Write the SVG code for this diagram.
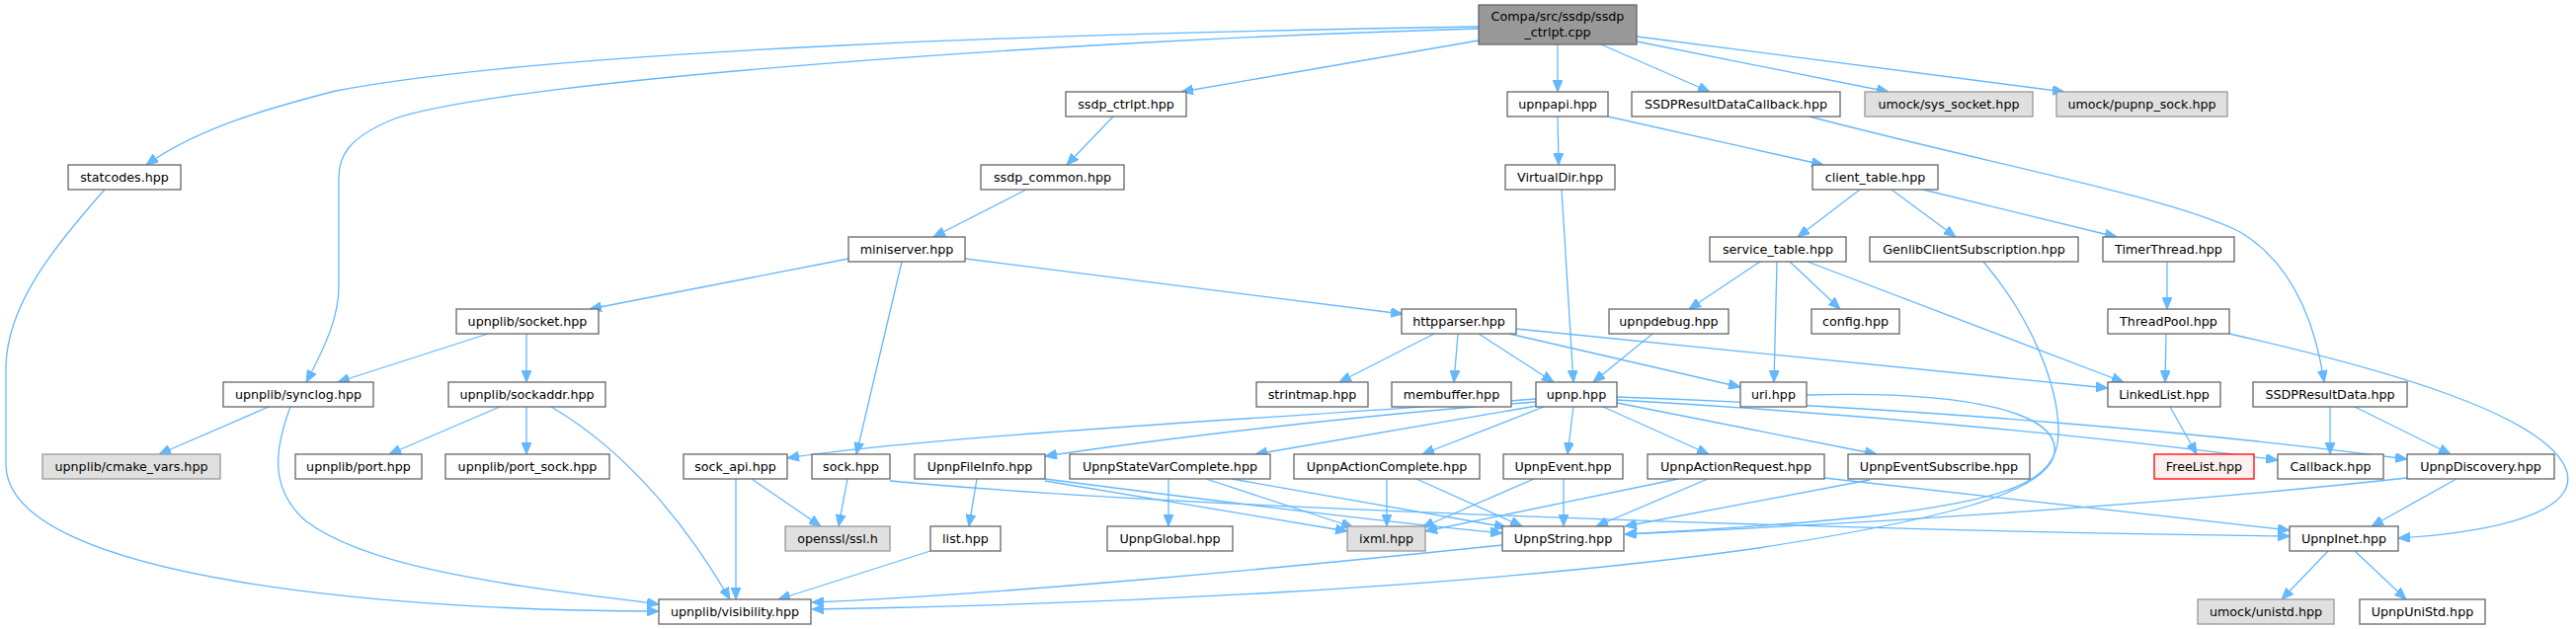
<svg xmlns="http://www.w3.org/2000/svg" width="2608" height="637" viewBox="0 0 2608 637">
<defs>
<marker id="a" markerUnits="userSpaceOnUse" markerWidth="12" markerHeight="10" viewBox="0 0 12 10" refX="12" refY="5" orient="auto">
<path d="M0,0 L12,5 L0,10 z" fill="#63b8ff" stroke="#63b8ff" stroke-width="1"/>
</marker>
<style>
rect{fill:#fff;stroke:#666;stroke-width:1.3}
.g rect{fill:#e0e0e0;stroke:#999}
.r rect{fill:#fff0f0;stroke:#f00}
.m rect{fill:#999;stroke:#666}
text{font-family:"DejaVu Sans",sans-serif;font-size:12.7px;text-anchor:middle;fill:#000}
#edges path{fill:none;stroke:#63b8ff;stroke-width:1.3;marker-end:url(#a)}
</style>
</defs>
<rect width="2608" height="637" style="fill:#fff;stroke:none"/>
<g id="edges">
<path d="M1497,27 C1100,33 560,50 340,92 C270,110 200,130 148,167"/>
<path d="M1497,29 C1100,40 520,80 400,120 C350,140 343,160 343,180 L343,290 C343,320 330,350 310,387"/>
<path d="M1497,41 L1196,93"/>
<path d="M1577,45 L1577,93"/>
<path d="M1621,45 L1731,93"/>
<path d="M1657,42 L1912,93"/>
<path d="M1657,37 L2090,93"/>
<path d="M1127,118 L1080,167"/>
<path d="M1039,192 L945,240"/>
<path d="M859,262 L597,313"/>
<path d="M913,265 L867,460"/>
<path d="M977,262 L1420,318"/>
<path d="M494,338 L342,387"/>
<path d="M533,338 L533,387"/>
<path d="M272,412 L161,460"/>
<path d="M294,412 C278,455 272,495 310,528 C380,580 540,595 667,612"/>
<path d="M506,412 L394,460"/>
<path d="M533,412 L533,460"/>
<path d="M558,412 C640,460 700,540 739,607"/>
<path d="M106,192 C50,255 8,310 6,370 L6,470 C6,590 420,619 667,619"/>
<path d="M745,485 L745,607"/>
<path d="M761,485 L831,533"/>
<path d="M858,485 L849,533"/>
<path d="M942,558 L788,607"/>
<path d="M1521,552 C1300,575 1000,603 822,610"/>
<path d="M1829,400 C2000,395 2085,420 2080,458 C2075,500 1960,527 1780,555 C1500,595 1100,613 822,617"/>
<path d="M1577,118 L1578,167"/>
<path d="M1628,118 L1846,167"/>
<path d="M1581,192 L1593,387"/>
<path d="M1832,118 C2010,165 2200,200 2268,235 C2318,265 2343,320 2353,387"/>
<path d="M1883,192 L1820,240"/>
<path d="M1915,192 L1980,240"/>
<path d="M1947,192 L2143,240"/>
<path d="M1782,265 L1710,313"/>
<path d="M1812,265 L1863,313"/>
<path d="M1799,265 L1796,387"/>
<path d="M1830,265 L2150,387"/>
<path d="M2008,265 C2055,320 2085,390 2084,440 C2083,490 2030,505 1900,522 C1800,533 1700,538 1645,541"/>
<path d="M2194,265 L2194,313"/>
<path d="M1452,338 L1356,387"/>
<path d="M1476,338 L1472,387"/>
<path d="M1497,338 L1573,387"/>
<path d="M1528,338 L1762,392"/>
<path d="M1535,333 L2134,393"/>
<path d="M1673,338 L1613,387"/>
<path d="M2193,338 L2192,387"/>
<path d="M2257,338 C2420,375 2575,420 2598,475 C2612,515 2540,538 2428,545"/>
<path d="M1555,404 C1350,420 950,440 797,464"/>
<path d="M1555,407 C1380,420 1170,445 1058,462"/>
<path d="M1556,411 L1271,460"/>
<path d="M1563,412 L1440,460"/>
<path d="M1593,412 L1587,460"/>
<path d="M1623,412 L1730,460"/>
<path d="M1637,408 L1900,460"/>
<path d="M1637,405 C1900,420 2150,445 2306,466"/>
<path d="M1637,402 C1950,413 2250,440 2437,465"/>
<path d="M2197,412 L2224,460"/>
<path d="M2359,412 L2359,460"/>
<path d="M2384,412 L2481,460"/>
<path d="M2487,485 L2401,533"/>
<path d="M2437,484 C2200,510 1900,530 1645,541"/>
<path d="M2357,558 L2310,607"/>
<path d="M2384,558 L2436,607"/>
<path d="M901,487 C1200,515 1900,538 2318,543"/>
<path d="M989,485 L981,533"/>
<path d="M1058,487 L1364,538"/>
<path d="M1058,485 C1250,510 1420,530 1521,540"/>
<path d="M1183,485 L1183,533"/>
<path d="M1221,485 L1370,534"/>
<path d="M1247,485 L1525,534"/>
<path d="M1404,485 L1404,533"/>
<path d="M1434,485 L1541,533"/>
<path d="M1553,485 L1440,534"/>
<path d="M1583,485 L1583,533"/>
<path d="M1699,485 L1443,538"/>
<path d="M1729,485 L1616,533"/>
<path d="M1847,484 L2318,537"/>
<path d="M1893,486 L1645,533"/>
</g>
<g id="n_compa" class="m"><rect x="1497" y="5" width="160" height="40"/><text x="1577" y="21">Compa/src/ssdp/ssdp</text><text x="1577" y="37">_ctrlpt.cpp</text></g>
<g id="n_ssdp_ctrlpt"><rect x="1079" y="93" width="122" height="25"/><text x="1140" y="110">ssdp_ctrlpt.hpp</text></g>
<g id="n_upnpapi"><rect x="1526" y="93" width="102" height="25"/><text x="1577" y="110">upnpapi.hpp</text></g>
<g id="n_ssdpcb"><rect x="1652" y="93" width="211" height="25"/><text x="1757.5" y="110">SSDPResultDataCallback.hpp</text></g>
<g id="n_sys_socket" class="g"><rect x="1888" y="93" width="170" height="25"/><text x="1973" y="110">umock/sys_socket.hpp</text></g>
<g id="n_pupnp_sock" class="g"><rect x="2082" y="93" width="173" height="25"/><text x="2168.5" y="110">umock/pupnp_sock.hpp</text></g>
<g id="n_statcodes"><rect x="69" y="167" width="114" height="25"/><text x="126" y="184">statcodes.hpp</text></g>
<g id="n_ssdp_common"><rect x="993" y="167" width="145" height="25"/><text x="1065.5" y="184">ssdp_common.hpp</text></g>
<g id="n_virtualdir"><rect x="1524" y="167" width="111" height="25"/><text x="1579.5" y="184">VirtualDir.hpp</text></g>
<g id="n_client_table"><rect x="1835" y="167" width="127" height="25"/><text x="1898.5" y="184">client_table.hpp</text></g>
<g id="n_miniserver"><rect x="859" y="240" width="118" height="25"/><text x="918" y="257">miniserver.hpp</text></g>
<g id="n_service_table"><rect x="1731" y="240" width="138" height="25"/><text x="1800" y="257">service_table.hpp</text></g>
<g id="n_genlib"><rect x="1893" y="240" width="211" height="25"/><text x="1998.5" y="257">GenlibClientSubscription.hpp</text></g>
<g id="n_timerthread"><rect x="2129" y="240" width="133" height="25"/><text x="2195.5" y="257">TimerThread.hpp</text></g>
<g id="n_socket"><rect x="462" y="313" width="144" height="25"/><text x="534" y="330">upnplib/socket.hpp</text></g>
<g id="n_httpparser"><rect x="1419" y="313" width="116" height="25"/><text x="1477" y="330">httpparser.hpp</text></g>
<g id="n_upnpdebug"><rect x="1629" y="313" width="121" height="25"/><text x="1689.5" y="330">upnpdebug.hpp</text></g>
<g id="n_config"><rect x="1834" y="313" width="89" height="25"/><text x="1878.5" y="330">config.hpp</text></g>
<g id="n_threadpool"><rect x="2134" y="313" width="123" height="25"/><text x="2195.5" y="330">ThreadPool.hpp</text></g>
<g id="n_synclog"><rect x="226" y="387" width="152" height="25"/><text x="302" y="404">upnplib/synclog.hpp</text></g>
<g id="n_sockaddr"><rect x="454" y="387" width="159" height="25"/><text x="533.5" y="404">upnplib/sockaddr.hpp</text></g>
<g id="n_strintmap"><rect x="1272" y="387" width="113" height="25"/><text x="1328.5" y="404">strintmap.hpp</text></g>
<g id="n_membuffer"><rect x="1409" y="387" width="121" height="25"/><text x="1469.5" y="404">membuffer.hpp</text></g>
<g id="n_upnp"><rect x="1555" y="387" width="82" height="25"/><text x="1596" y="404">upnp.hpp</text></g>
<g id="n_uri"><rect x="1762" y="387" width="67" height="25"/><text x="1795.5" y="404">uri.hpp</text></g>
<g id="n_linkedlist"><rect x="2134" y="387" width="114" height="25"/><text x="2191" y="404">LinkedList.hpp</text></g>
<g id="n_ssdpresultdata"><rect x="2281" y="387" width="156" height="25"/><text x="2359" y="404">SSDPResultData.hpp</text></g>
<g id="n_cmake_vars" class="g"><rect x="43" y="460" width="180" height="25"/><text x="133" y="477">upnplib/cmake_vars.hpp</text></g>
<g id="n_port"><rect x="299" y="460" width="128" height="25"/><text x="363" y="477">upnplib/port.hpp</text></g>
<g id="n_port_sock"><rect x="451" y="460" width="166" height="25"/><text x="534" y="477">upnplib/port_sock.hpp</text></g>
<g id="n_sock_api"><rect x="692" y="460" width="105" height="25"/><text x="744.5" y="477">sock_api.hpp</text></g>
<g id="n_sock"><rect x="822" y="460" width="79" height="25"/><text x="861.5" y="477">sock.hpp</text></g>
<g id="n_upnpfileinfo"><rect x="926" y="460" width="132" height="25"/><text x="992" y="477">UpnpFileInfo.hpp</text></g>
<g id="n_statevar"><rect x="1083" y="460" width="203" height="25"/><text x="1184.5" y="477">UpnpStateVarComplete.hpp</text></g>
<g id="n_actioncomplete"><rect x="1310" y="460" width="188" height="25"/><text x="1404" y="477">UpnpActionComplete.hpp</text></g>
<g id="n_upnpevent"><rect x="1522" y="460" width="121" height="25"/><text x="1582.5" y="477">UpnpEvent.hpp</text></g>
<g id="n_actionrequest"><rect x="1668" y="460" width="179" height="25"/><text x="1757.5" y="477">UpnpActionRequest.hpp</text></g>
<g id="n_eventsubscribe"><rect x="1871" y="460" width="184" height="25"/><text x="1963" y="477">UpnpEventSubscribe.hpp</text></g>
<g id="n_freelist" class="r"><rect x="2181" y="460" width="101" height="25"/><text x="2231.5" y="477">FreeList.hpp</text></g>
<g id="n_callback"><rect x="2306" y="460" width="107" height="25"/><text x="2359.5" y="477">Callback.hpp</text></g>
<g id="n_discovery"><rect x="2437" y="460" width="149" height="25"/><text x="2511.5" y="477">UpnpDiscovery.hpp</text></g>
<g id="n_openssl" class="g"><rect x="795" y="533" width="106" height="25"/><text x="848" y="550">openssl/ssl.h</text></g>
<g id="n_list"><rect x="942" y="533" width="71" height="25"/><text x="977.5" y="550">list.hpp</text></g>
<g id="n_upnpglobal"><rect x="1121" y="533" width="127" height="25"/><text x="1184.5" y="550">UpnpGlobal.hpp</text></g>
<g id="n_ixml" class="g"><rect x="1364" y="533" width="79" height="25"/><text x="1403.5" y="550">ixml.hpp</text></g>
<g id="n_upnpstring"><rect x="1521" y="533" width="123" height="25"/><text x="1582.5" y="550">UpnpString.hpp</text></g>
<g id="n_upnpinet"><rect x="2318" y="533" width="110" height="25"/><text x="2373" y="550">UpnpInet.hpp</text></g>
<g id="n_visibility"><rect x="667" y="607" width="154" height="25"/><text x="744" y="624">upnplib/visibility.hpp</text></g>
<g id="n_unistd" class="g"><rect x="2225" y="607" width="138" height="25"/><text x="2294" y="624">umock/unistd.hpp</text></g>
<g id="n_upnpunistd"><rect x="2389" y="607" width="127" height="25"/><text x="2452.5" y="624">UpnpUniStd.hpp</text></g>
</svg>
